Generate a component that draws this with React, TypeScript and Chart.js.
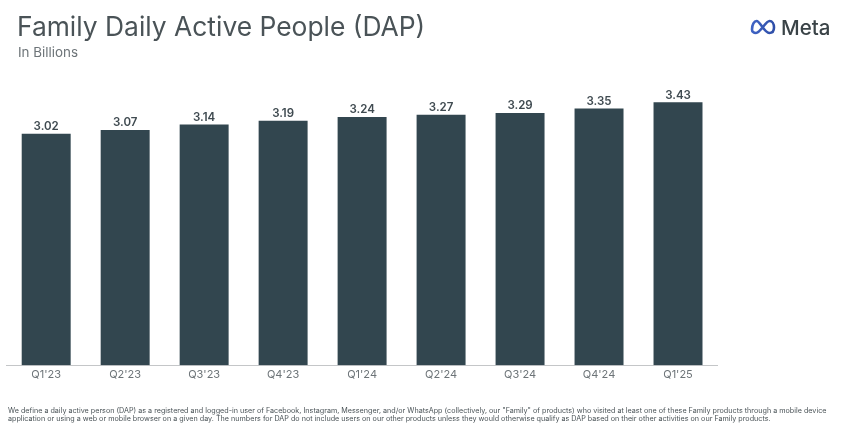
import { useEffect, useRef } from "react"
import { Chart, registerables } from "chart.js"
import type { Plugin } from "chart.js"

Chart.register(...registerables)

const quarters = ["Q1'23", "Q2'23", "Q3'23", "Q4'23", "Q1'24", "Q2'24", "Q3'24", "Q4'24", "Q1'25"]
const dap = [3.02, 3.07, 3.14, 3.19, 3.24, 3.27, 3.29, 3.35, 3.43]

const fontFamily = "Inter, 'Noto Sans', sans-serif"

const footnoteLines = [
  "We define a daily active person (DAP) as a registered and logged-in user of Facebook, Instagram, Messenger, and/or WhatsApp (collectively, our \"Family\" of products) who visited at least one of these Family products through a mobile device",
  "application or using a web or mobile browser on a given day. The numbers for DAP do not include users on our other products unless they would otherwise qualify as DAP based on their other activities on our Family products.",
]

// Chart.js has no value labels without a plugin package, so draw them here
const valueLabels: Plugin<"bar"> = {
  id: "valueLabels",
  afterDatasetsDraw(chart) {
    const { ctx } = chart
    const bars = chart.getDatasetMeta(0).data

    ctx.save()
    ctx.fillStyle = "#3f4a50"
    ctx.font = `600 11.5px ${fontFamily}`
    ctx.textAlign = "center"
    ctx.textBaseline = "bottom"
    bars.forEach((bar, i) => {
      ctx.fillText(dap[i].toFixed(2), bar.x, bar.y - 1.5)
    })
    ctx.restore()
  },
}

function MetaLogo() {
  return (
    <svg width="26" height="16" viewBox="0 0 26 16" style={{ position: "absolute", left: 750, top: 19 }}>
      <defs>
        <linearGradient id="metaGrad" x1="0" y1="0" x2="1" y2="0">
          <stop offset="0" stopColor="#3f63c4" />
          <stop offset="1" stopColor="#2f4fa8" />
        </linearGradient>
      </defs>
      <path
        d="M2 10.5C2 5.5 4.2 2 6.6 2C10 2 14.5 14 19.2 14C22 14 24 12 24 8.5C24 4.8 22.2 2 19.6 2C15.5 2 10.5 14 6 14C3.6 14 2 12.8 2 10.5Z"
        fill="none"
        stroke="url(#metaGrad)"
        strokeWidth="2.6"
      />
    </svg>
  )
}

export default function App() {
  const chartRef = useRef<HTMLCanvasElement | null>(null)

  useEffect(() => {
    if (!chartRef.current) return

    document.body.style.margin = "0"
    document.body.style.background = "#ffffff"

    const chart = new Chart(chartRef.current, {
      type: "bar",
      data: {
        labels: quarters,
        datasets: [
          {
            data: dap,
            backgroundColor: "#32464f",
            categoryPercentage: 1,
            barPercentage: 0.62,
          },
        ],
      },
      options: {
        responsive: false,
        animation: false,
        layout: { padding: { left: 6.7, right: 130.5, top: 74, bottom: 45.5 } },
        plugins: {
          legend: { display: false },
          tooltip: { enabled: false },
        },
        scales: {
          x: {
            grid: { display: false, drawTicks: false },
            border: { color: "#c4c6c8", width: 1 },
            ticks: {
              color: "#6d7478",
              padding: 3,
              maxRotation: 0,
              font: { family: fontFamily, size: 11 },
            },
          },
          y: {
            display: false,
            min: 0,
            max: 3.8,
          },
        },
      },
      plugins: [valueLabels],
    })

    return () => {
      chart.destroy()
    }
  }, [])

  return (
    <div style={{ position: "relative", width: 848, height: 430, overflow: "hidden", fontFamily, filter: "blur(0.35px)" }}>
      <canvas ref={chartRef} width={848} height={430} style={{ position: "absolute", left: 0, top: 0 }} />
      <div style={{ position: "absolute", left: 17, top: 10, fontSize: 26.4, color: "#4a5357", whiteSpace: "nowrap" }}>
        Family Daily Active People (DAP)
      </div>
      <div style={{ position: "absolute", left: 18, top: 44, fontSize: 13.4, color: "#6d7478", whiteSpace: "nowrap" }}>
        In Billions
      </div>
      <MetaLogo />
      <div style={{ position: "absolute", left: 781, top: 15, fontSize: 20.5, fontWeight: 500, color: "#3a4347" }}>Meta</div>
      <div style={{ position: "absolute", left: 8, top: 407, fontSize: 7.2, lineHeight: "8.4px", color: "#4a5357", whiteSpace: "nowrap" }}>
        {footnoteLines.map((line) => (
          <div key={line}>{line}</div>
        ))}
      </div>
    </div>
  )
}
